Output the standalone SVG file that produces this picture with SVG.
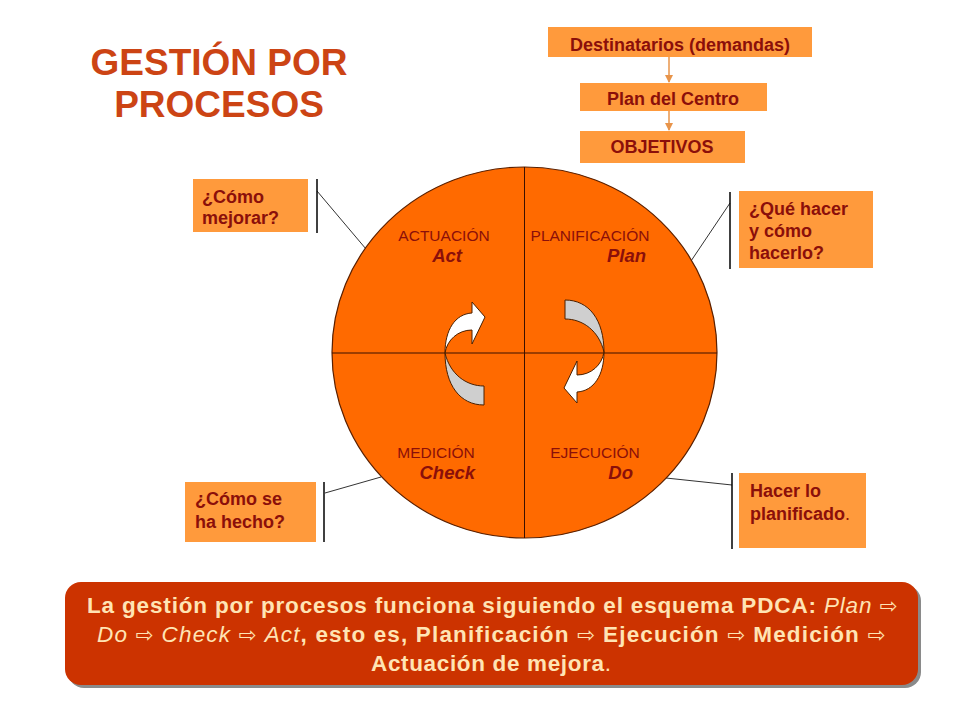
<svg xmlns="http://www.w3.org/2000/svg" width="960" height="720" viewBox="0 0 960 720">
<style>
.box{fill:#FF9A3C;}
.bt{font-family:"Liberation Sans",Arial,sans-serif;font-weight:bold;font-size:18px;fill:#8B0F0A;}
.q{font-family:"Liberation Sans",Arial,sans-serif;font-size:15.5px;fill:#8B0F0A;}
.qi{font-family:"Liberation Sans",Arial,sans-serif;font-size:18.5px;font-weight:bold;font-style:italic;fill:#8B0F0A;}
.title{font-family:"Liberation Sans",Arial,sans-serif;font-weight:bold;font-size:37px;fill:#CC4414;}
.con{stroke:#333;stroke-width:1;fill:none;}
.bar{stroke:#000;stroke-width:1.5;}
.bot{font-family:"Liberation Sans",Arial,sans-serif;font-weight:bold;font-size:22.5px;fill:#FFE4B4;}
.it{font-style:italic;font-weight:normal;}
.ar{font-family:"DejaVu Sans",sans-serif;font-weight:normal;font-size:21px;}
.arw{stroke:#4a2000;stroke-width:1;}
</style>
<defs>
<marker id="ah" markerWidth="8" markerHeight="8" refX="7" refY="4" orient="auto" markerUnits="userSpaceOnUse">
<path d="M0,0 L8,4 L0,8 Z" fill="#E8944A"/>
</marker>
</defs>
<rect width="960" height="720" fill="#fff"/>

<g id="title">
<text class="title" x="219" y="75" text-anchor="middle">GESTIÓN POR</text>
<text class="title" x="219" y="117" text-anchor="middle">PROCESOS</text>
</g>

<g id="connectors">
<line x1="669" y1="57" x2="669" y2="82" stroke="#E8944A" stroke-width="1.5" marker-end="url(#ah)"/>
<line x1="669" y1="111" x2="669" y2="130" stroke="#E8944A" stroke-width="1.5" marker-end="url(#ah)"/>
<line class="con" x1="317" y1="191" x2="366" y2="249"/>
<line class="con" x1="730" y1="203" x2="691" y2="261"/>
<line class="con" x1="325" y1="493" x2="381" y2="477"/>
<line class="con" x1="732" y1="485" x2="666" y2="478"/>
<line class="bar" x1="317" y1="179" x2="317" y2="233"/>
<line class="bar" x1="730" y1="192" x2="730" y2="269"/>
<line class="bar" x1="324" y1="482" x2="324" y2="542"/>
<line class="bar" x1="732" y1="473" x2="732" y2="549"/>
</g>

<g id="destinatarios">
<rect class="box" x="548" y="27" width="264" height="30"/>
<text class="bt" x="680" y="51" text-anchor="middle">Destinatarios (demandas)</text>
</g>
<g id="plan-centro">
<rect class="box" x="580" y="83" width="187" height="28"/>
<text class="bt" x="673" y="105" text-anchor="middle">Plan del Centro</text>
</g>
<g id="objetivos">
<rect class="box" x="580" y="131" width="165" height="32"/>
<text class="bt" x="662" y="153" text-anchor="middle">OBJETIVOS</text>
</g>

<g id="como-mejorar">
<rect class="box" x="193" y="179" width="115" height="53"/>
<text class="bt" x="202" y="203">¿Cómo</text>
<text class="bt" x="202" y="224">mejorar?</text>
</g>
<g id="que-hacer">
<rect class="box" x="739" y="191" width="134" height="77"/>
<text class="bt" x="749" y="215">¿Qué hacer</text>
<text class="bt" x="749" y="237">y cómo</text>
<text class="bt" x="749" y="259">hacerlo?</text>
</g>
<g id="como-hecho">
<rect class="box" x="185" y="482" width="131" height="60"/>
<text class="bt" x="195" y="505">¿Cómo se</text>
<text class="bt" x="195" y="528">ha hecho?</text>
</g>
<g id="hacer-planificado">
<rect class="box" x="739" y="473" width="127" height="75"/>
<text class="bt" x="750" y="497">Hacer lo</text>
<text class="bt" x="750" y="520">planificado<tspan font-weight="normal">.</tspan></text>
</g>

<g id="ciclo">
<ellipse cx="524.5" cy="352.5" rx="192.5" ry="185.5" fill="#FF6A00" stroke="#5a2000" stroke-width="1.2"/>
<line x1="524.5" y1="167" x2="524.5" y2="538" stroke="#3a1000" stroke-width="1"/>
<line x1="332" y1="353" x2="717" y2="353" stroke="#3a1000" stroke-width="1"/>
<g id="flecha-izq">
<path class="arw" fill="#CFCFCF" d="M445,353 C445,385 460,405 484,405 L484,386 C466,386 450,374 445,353 Z"/>
<path class="arw" fill="#FFFFFF" d="M445,353 C445,330 455,314 472,313 L472,302 L485,317 L472,344 L472,330 C458,330 447,340 445,353 Z"/>
</g>
<g id="flecha-der" transform="rotate(180 524.5 352.5)">
<path class="arw" fill="#CFCFCF" d="M445,353 C445,385 460,405 484,405 L484,386 C466,386 450,374 445,353 Z"/>
<path class="arw" fill="#FFFFFF" d="M445,353 C445,330 455,314 472,313 L472,302 L485,317 L472,344 L472,330 C458,330 447,340 445,353 Z"/>
</g>
</g>

<g id="actuacion">
<text class="q" x="444" y="241" text-anchor="middle" font-size="14.5">ACTUACIÓN</text>
<text class="qi" x="462" y="262" text-anchor="end">Act</text>
</g>
<g id="planificacion">
<text class="q" x="590" y="241" text-anchor="middle">PLANIFICACIÓN</text>
<text class="qi" x="646" y="262" text-anchor="end">Plan</text>
</g>
<g id="medicion">
<text class="q" x="436" y="458" text-anchor="middle">MEDICIÓN</text>
<text class="qi" x="475" y="479" text-anchor="end">Check</text>
</g>
<g id="ejecucion">
<text class="q" x="595" y="458" text-anchor="middle">EJECUCIÓN</text>
<text class="qi" x="633" y="479" text-anchor="end">Do</text>
</g>

<g id="resumen">
<rect x="68" y="585" width="853" height="103" rx="16" fill="#8a8a8a"/>
<rect x="65" y="582" width="853" height="103" rx="16" fill="#CC3300"/>
<text class="bot" x="87" y="613" textLength="810" lengthAdjust="spacing">La gestión por procesos funciona siguiendo el esquema PDCA: <tspan class="it">Plan</tspan> <tspan class="ar">⇨</tspan></text>
<text class="bot" x="97" y="642" textLength="788" lengthAdjust="spacing"><tspan class="it">Do</tspan> <tspan class="ar">⇨</tspan> <tspan class="it">Check</tspan> <tspan class="ar">⇨</tspan> <tspan class="it">Act</tspan>, esto es, Planificación <tspan class="ar">⇨</tspan> Ejecución <tspan class="ar">⇨</tspan> Medición <tspan class="ar">⇨</tspan></text>
<text class="bot" x="371" y="671" textLength="240" lengthAdjust="spacing">Actuación de mejora<tspan font-weight="normal">.</tspan></text>
</g>
</svg>
